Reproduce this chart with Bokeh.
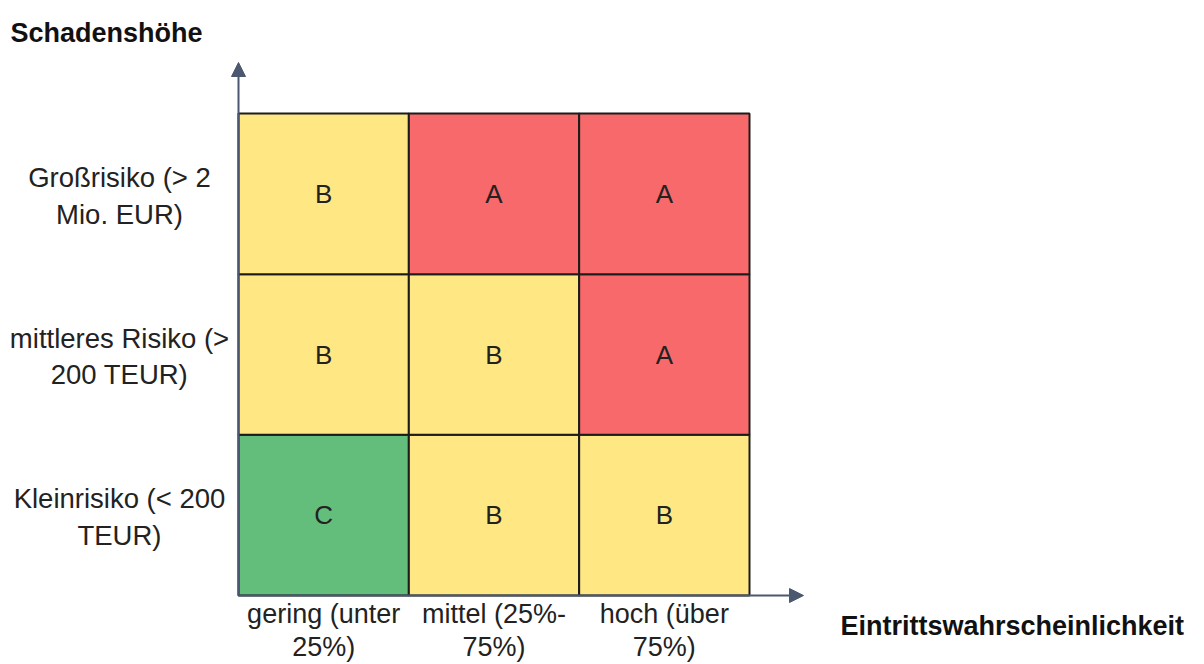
from bokeh.plotting import figure
from bokeh.models import Range1d, Arrow, NormalHead, ColumnDataSource
from bokeh.core.properties import value
from bokeh.embed import file_html
from bokeh.resources import INLINE

# ---- data ----
probability = ["gering (unter\n25%)", "mittel (25%-\n75%)", "hoch (über\n75%)"]
damage = ["Kleinrisiko (< 200\nTEUR)", "mittleres Risiko (>\n200 TEUR)", "Großrisiko (> 2\nMio. EUR)"]
# rows bottom -> top, columns left -> right
risk_class = [
    ["C", "B", "B"],
    ["B", "B", "A"],
    ["B", "A", "A"],
]
x_title = "Eintrittswahrscheinlichkeit"
y_title = "Schadenshöhe"

class_colors = {"A": "#F8696B", "B": "#FFE784", "C": "#63BE7B"}

# ---- layout helpers (canvas pixels -> data units) ----
W, H = 1204, 664
GX0, GX1 = 238, 749       # grid left/right in canvas pixels
GY0, GY1 = 113, 595       # grid top/bottom in canvas pixels
SX = (GX1 - GX0) / len(probability)
SY = (GY1 - GY0) / len(damage)

def dx(px):
    return (px - GX0) / SX

def dy(py):
    return (GY1 - py) / SY

FONT = value("Liberation Sans")
AX = "#4B5870"

p = figure(width=W, height=H, min_border=0, x_axis_location=None, y_axis_location=None,
           toolbar_location=None, output_backend="svg",
           x_range=Range1d(dx(0), dx(W)), y_range=Range1d(dy(H), dy(0)))
p.outline_line_color = None
p.background_fill_color = "white"
p.border_fill_color = "white"
for g in p.grid:
    g.visible = False

# ---- cells ----
xs, ys, gs, cs = [], [], [], []
for j, row in enumerate(risk_class):
    for i, g in enumerate(row):
        xs.append(i + 0.5)
        ys.append(j + 0.5)
        gs.append(g)
        cs.append(class_colors[g])
src = ColumnDataSource(dict(x=xs, y=ys, g=gs, c=cs))
p.rect(x="x", y="y", width=1, height=1, source=src, fill_color="c",
       line_color="#1c1c1c", line_width=2)
p.text(x="x", y="y", text="g", source=src, text_align="center", text_baseline="middle",
       text_font=FONT, text_font_size="26px", text_color="#222222")

# ---- arrows (axes) ----
p.add_layout(Arrow(end=NormalHead(size=14, fill_color=AX, line_color=AX),
                   x_start=0, y_start=0, x_end=0, y_end=dy(62),
                   line_color=AX, line_width=2))
p.add_layout(Arrow(end=NormalHead(size=14, fill_color=AX, line_color=AX),
                   x_start=0, y_start=0, x_end=dx(803), y_end=0,
                   line_color=AX, line_width=2))

# ---- category labels ----
col_src = ColumnDataSource(dict(x=[i + 0.5 for i in range(len(probability))],
                                y=[dy(630)] * len(probability), t=probability))
p.text(x="x", y="y", text="t", source=col_src, text_align="center", text_baseline="middle",
       text_font=FONT, text_font_size="27px", text_color="#222222", text_line_height=1.12)

row_src = ColumnDataSource(dict(x=[dx(119)] * len(damage),
                                y=[j + 0.5 for j in range(len(damage))], t=damage))
p.text(x="x", y="y", text="t", source=row_src, text_align="center", text_baseline="middle",
       y_offset=2,
       text_font=FONT, text_font_size="27.5px", text_color="#222222", text_line_height=1.18)

# ---- axis titles ----
p.text(x=[dx(10)], y=[dy(32)], text=[y_title], text_align="left", text_baseline="alphabetic",
       text_font=FONT, text_font_style="bold", text_font_size="27px", text_color="#111111")
p.text(x=[dx(840)], y=[dy(625)], text=[x_title], text_align="left", text_baseline="alphabetic",
       text_font=FONT, text_font_style="bold", text_font_size="27px", text_color="#111111")

open("out.html", "w").write(file_html(p, INLINE))
